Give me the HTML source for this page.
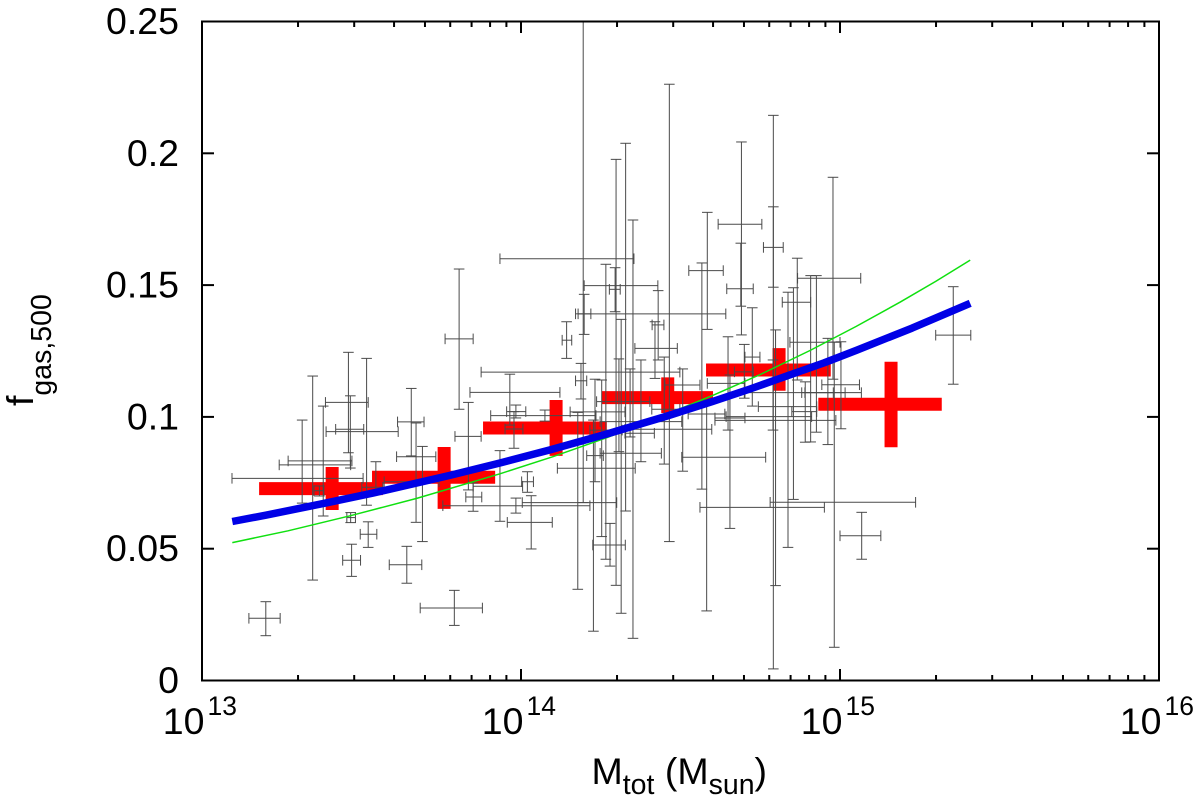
<!DOCTYPE html>
<html lang="en">
<head>
<meta charset="utf-8">
<title>Gas fraction vs total mass</title>
<style>
html,body{margin:0;padding:0;background:#fff;}
svg{display:block;font-family:"Liberation Sans",sans-serif;fill:#000;}
</style>
</head>
<body>
<svg id="chart" xmlns="http://www.w3.org/2000/svg" width="1200" height="800" viewBox="0 0 1200 800">
  <defs><clipPath id="plot-clip"><rect x="202" y="21.5" width="957" height="659"/></clipPath></defs>
  <rect x="0" y="0" width="1200" height="800" fill="#fff"/>
  <g id="marks" clip-path="url(#plot-clip)"></g>
  <g id="axes"></g>
  <text x="591.5" y="784" font-size="37.5">M<tspan font-size="28.5" dy="10">tot</tspan><tspan dy="-10"> (M</tspan><tspan font-size="28.5" dy="10">sun</tspan><tspan dy="-10">)</tspan></text>
  <text transform="translate(33 406) rotate(-90)" font-size="37.5">f<tspan font-size="28.5" dy="18">gas,500</tspan></text>
</svg>
<script>
// Individual clusters: log10(total mass) with range, gas fraction with range
var logMass = [
13.200,13.347,13.314,13.380,13.368,13.466,13.521,13.469,13.642,13.791,
13.459,13.465,13.516,13.545,13.656,13.671,13.691,13.835,13.850,13.806,
13.934,14.298,14.195,14.328,14.314,14.266,14.351,14.232,14.465,14.420,
14.342,14.449,14.376,14.227,14.253,14.188,13.965,13.978,13.984,14.032,
14.178,14.075,13.984,14.020,14.143,14.198,14.295,14.584,14.649,14.567,
14.691,14.689,14.700,14.725,14.791,14.791,14.798,14.837,14.790,14.854,
14.866,14.891,14.908,14.978,14.982,14.926,15.003,14.962,15.068,15.355,
14.655,14.582,14.507,14.279,14.307,14.430];
var logMassLow = [
13.147,13.094,13.242,13.270,13.351,13.454,13.496,13.441,13.587,13.684,
13.419,13.387,13.389,13.501,13.613,13.610,13.571,13.793,13.827,13.762,
13.850,13.875,13.934,14.198,14.248,14.216,14.326,14.114,14.179,14.357,
14.326,14.410,14.248,14.206,14.154,14.171,13.840,13.950,13.955,13.957,
14.004,13.905,13.755,14.002,14.129,14.171,14.277,14.526,14.584,14.504,
14.618,14.645,14.669,14.702,14.760,14.561,14.702,14.744,14.643,14.608,
14.819,14.849,14.880,14.867,14.781,14.843,14.943,14.890,15.000,15.300,
14.608,14.524,14.451,14.225,14.237,14.411];
var logMassHigh = [
13.245,13.505,13.466,13.470,13.382,13.481,13.548,13.497,13.689,13.879,
13.507,13.521,13.615,13.567,13.696,13.733,13.743,13.875,13.877,13.850,
14.005,14.498,14.354,14.429,14.440,14.317,14.598,14.358,14.642,14.490,
14.418,14.498,14.504,14.258,14.326,14.206,14.122,14.006,14.015,14.098,
14.300,14.235,14.216,14.039,14.159,14.219,14.311,14.634,14.702,14.767,
14.755,14.728,14.728,14.749,14.822,14.951,14.979,14.927,14.911,14.987,
14.908,14.927,15.067,15.065,15.237,15.000,15.061,15.016,15.128,15.410,
14.702,14.639,14.561,14.327,14.404,14.448];
var gasFraction = [
.0236,.0767,.0818,.0833,.0720,.0618,.0555,.0456,.0439,.0275,
.0953,.1055,.0944,.0733,.0981,.0849,.0754,.0926,.0696,.1296,
.0737,.1170,.1600,.1498,.0862,.0950,.0953,.0805,.1391,.1260,
.0938,.1029,.0982,.0853,.1019,.1137,.1093,.0954,.1020,.0600,
.0675,.1005,.0663,.0754,.1291,.1391,.1484,.1555,.1127,.0847,
.1731,.1486,.1171,.1227,.1643,.0657,.1092,.1039,.1001,.0987,
.1435,.1020,.1092,.1526,.0676,.1283,.1122,.1092,.0549,.1310,
.0996,.1011,.1121,.0514,.1058,.1349];
var gasFractionHigh = [
.0299,.1155,.0988,.1041,.0738,.0637,.0602,.0517,.0509,.0342,
.1245,.1080,.1222,.0830,.1108,.0977,.0888,.1055,.0749,.1561,
.0872,.1977,.2699,.2038,.1370,.1579,.1747,.1143,.2262,.1361,
.1182,.1227,.1216,.0988,.1140,.1203,.1162,.1020,.1045,.0701,
.1017,.1026,.0692,.0792,.1361,.1465,.1566,.1776,.1304,.1584,
.2043,.1659,.1275,.1414,.1797,.2144,.1330,.1473,.1216,.1490,
.1602,.1133,.1536,.1909,.1284,.1536,.1285,.1298,.0638,.1494,
.1159,.1064,.1182,.0596,.1220,.1479];
var gasFractionLow = [
.0170,.0381,.0673,.0624,.0700,.0599,.0505,.0395,.0369,.0209,
.0864,.0806,.0665,.0707,.0852,.0600,.0527,.0723,.0642,.1029,
.0604,.0361,.0675,.0643,.0255,.0460,.0160,.0754,.0527,.1146,
.0924,.0821,.0830,.0187,.0546,.1068,.0969,.0881,.0996,.0499,
.0346,.0984,.0635,.0714,.1222,.1313,.1399,.1332,.0950,.0726,
.1311,.1420,.1071,.1041,.1492,.0044,.0360,.0505,.0950,.0687,
.1140,.0904,.0905,.1143,.0126,.0942,.0955,.0895,.0460,.1124,
.0577,.0264,.0794,.0434,.0868,.1216];

// Binned averages (red crosses)
var binLogMass = [13.408,13.759,14.110,14.460,14.809,15.160];
var binLogMassLow = [13.179,13.533,13.881,14.253,14.580,14.932];
var binLogMassHigh = [13.567,13.919,14.269,14.602,14.971,15.319];
var binFraction = [.0728,.0771,.0958,.1073,.1178,.1048];
var binFractionHigh = [.0810,.0886,.1064,.1150,.1261,.1209];
var binFractionLow = [.0647,.0651,.0852,.1015,.1099,.0885];

// Fit curves
var blueLogMass = [13.095,13.200,13.391,13.536,13.777,13.934,14.091,14.269,14.457,14.600,14.718,14.812,14.950,15.052,15.226,15.408];
var blueFraction = [.0603,.0627,.0674,.0711,.0778,.0825,.0875,.0935,.1003,.1058,.1106,.1146,.1205,.1253,.1337,.1431];
var greenLogMass = [13.095,13.270,13.464,13.673,13.934,14.100,14.269,14.450,14.602,14.750,14.906,15.050,15.188,15.300,15.408];
var greenFraction = [.0523,.0568,.0625,.0691,.0784,.0849,.0921,.1007,.1082,.1161,.1252,.1343,.1435,.1514,.1595];

// Axis ticks
var xTickExponents = [13,14,15,16];
var yTickValues = [0,0.05,0.1,0.15,0.2,0.25];
var yTickLabels = ["0","0.05","0.1","0.15","0.2","0.25"];

var SVGNS = "http://www.w3.org/2000/svg";
function xScale(logM){ return 202 + 319 * (logM - 13); }
function yScale(f){ return 680.5 - 2636 * f; }

function addLine(parent, name, x1, y1, x2, y2, stroke, width){
  var el = document.createElementNS(SVGNS, "line");
  
  
  el.setAttribute("x1", x1);
  el.setAttribute("y1", y1);
  el.setAttribute("x2", x2);
  el.setAttribute("y2", y2);
  el.setAttribute("stroke", stroke);
  el.setAttribute("stroke-width", width);
  parent.appendChild(el);
  return el;
}
function addGroup(parent, name){
  var el = document.createElementNS(SVGNS, "g");
  
  
  parent.appendChild(el);
  return el;
}
function addText(parent, name, x, y, size, anchor, str){
  var el = document.createElementNS(SVGNS, "text");
  
  
  el.setAttribute("x", x);
  el.setAttribute("y", y);
  el.setAttribute("font-size", size);
  el.setAttribute("text-anchor", anchor);
  el.textContent = str;
  parent.appendChild(el);
  return el;
}
function addCurve(parent, name, xs, ys, stroke, width){
  var el = document.createElementNS(SVGNS, "polyline");
  var pts = [];
  for (var i = 0; i < xs.length; i++) { pts.push(xScale(xs[i]).toFixed(1) + "," + yScale(ys[i]).toFixed(1)); }
  
  
  el.setAttribute("points", pts.join(" "));
  el.setAttribute("fill", "none");
  el.setAttribute("stroke", stroke);
  el.setAttribute("stroke-width", width);
  el.setAttribute("stroke-linejoin", "round");
  parent.appendChild(el);
  return el;
}

var marks = document.getElementById("marks");
var axes = document.getElementById("axes");

// Red binned crosses
var binLayer = addGroup(marks, "binned-averages");
binLogMass.forEach(function(m, i){
  var g = addGroup(binLayer, "binned-point");
  addLine(g, "binned-mass-range", xScale(binLogMassLow[i]), yScale(binFraction[i]), xScale(binLogMassHigh[i]), yScale(binFraction[i]), "#ff0000", 13);
  addLine(g, "binned-fraction-range", xScale(m), yScale(binFractionHigh[i]), xScale(m), yScale(binFractionLow[i]), "#ff0000", 13);
});

// Individual error-bar crosses
var barLayer = addGroup(marks, "cluster-error-bars");
logMass.forEach(function(m, i){
  var g = addGroup(barLayer, "cluster-point");
  var cx = xScale(m), cy = yScale(gasFraction[i]);
  var xl = xScale(logMassLow[i]), xr = xScale(logMassHigh[i]);
  var yt = yScale(gasFractionHigh[i]), yb = yScale(gasFractionLow[i]);
  var cap = 5.3, col = "#4a4a4a", w = 1;
  addLine(g, "mass-error-bar", xl, cy, xr, cy, col, w);
  addLine(g, "mass-low-cap", xl, cy - cap, xl, cy + cap, col, w);
  addLine(g, "mass-high-cap", xr, cy - cap, xr, cy + cap, col, w);
  addLine(g, "fraction-error-bar", cx, yt, cx, yb, col, w);
  addLine(g, "fraction-high-cap", cx - cap, yt, cx + cap, yt, col, w);
  addLine(g, "fraction-low-cap", cx - cap, yb, cx + cap, yb, col, w);
});

addCurve(marks, "green-fit-line", greenLogMass, greenFraction, "#10e010", 1.5);
addCurve(marks, "blue-fit-line", blueLogMass, blueFraction, "#0000e6", 7.5);

// Frame
var frame = document.createElementNS(SVGNS, "rect");


frame.setAttribute("x", 202);
frame.setAttribute("y", 21.5);
frame.setAttribute("width", 957);
frame.setAttribute("height", 659);
frame.setAttribute("fill", "none");
frame.setAttribute("stroke", "#000");
frame.setAttribute("stroke-width", 2);
axes.appendChild(frame);

// X ticks
xTickExponents.forEach(function(e, idx){
  var x = xScale(e);
  addLine(axes, "x-major-tick-bottom", x, 680.5, x, 669, "#000", 2);
  addLine(axes, "x-major-tick-top", x, 21.5, x, 33, "#000", 2);
  addText(axes, "x-tick-label-base", x + 2.5, 734, 37.5, "end", "10");
  addText(axes, "x-tick-label-exponent", x + 5.5, 715, 26.5, "start", String(e));
  if (idx < xTickExponents.length - 1) {
    for (var k = 2; k < 10; k++) {
      var mx = xScale(e + Math.log10(k));
      addLine(axes, "x-minor-tick-bottom", mx, 680.5, mx, 675, "#000", 2);
      addLine(axes, "x-minor-tick-top", mx, 21.5, mx, 27, "#000", 2);
    }
  }
});

// Y ticks
yTickValues.forEach(function(v, i){
  var y = yScale(v);
  addLine(axes, "y-tick-left", 202, y, 214, y, "#000", 2);
  addLine(axes, "y-tick-right", 1159, y, 1147, y, "#000", 2);
  addText(axes, "y-tick-label", 179, y + 12.5, 37.5, "end", yTickLabels[i]);
});
</script>
</body>
</html>
